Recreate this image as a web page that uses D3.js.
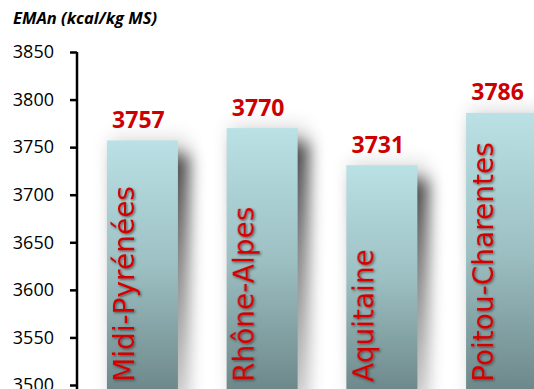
<!DOCTYPE html>
<html><head><meta charset="utf-8">
<script src="https://cdn.jsdelivr.net/npm/d3@7"></script>
<style>body{margin:0;background:#fff;overflow:hidden}svg{display:block}</style>
</head><body>
<script>
const categories = ["Midi-Pyrénées", "Rhône-Alpes", "Aquitaine", "Poitou-Charentes"];
const values = [3757, 3770, 3731, 3786];
const yTicks = [3500, 3550, 3600, 3650, 3700, 3750, 3800, 3850];
const yTitle = "EMAn (kcal/kg MS)";

const W = 534, H = 389;
const svg = d3.select("body").append("svg").attr("width", W).attr("height", H);
const defs = svg.append("defs");
const grad = defs.append("linearGradient").attr("id", "barGrad").attr("x1", 0).attr("y1", 0).attr("x2", 0).attr("y2", 1);
grad.append("stop").attr("offset", "0%").attr("stop-color", "#bae1e5");
grad.append("stop").attr("offset", "50%").attr("stop-color", "#9cbfc2");
grad.append("stop").attr("offset", "100%").attr("stop-color", "#6c8688");
const sgrad = defs.append("linearGradient").attr("id", "shGrad").attr("x1", 0).attr("y1", 0).attr("x2", 0).attr("y2", 1);
sgrad.append("stop").attr("offset", "0%").attr("stop-color", "#000").attr("stop-opacity", 0.7);
sgrad.append("stop").attr("offset", "45%").attr("stop-color", "#000").attr("stop-opacity", 0.4);
sgrad.append("stop").attr("offset", "100%").attr("stop-color", "#000").attr("stop-opacity", 0.1);
const blur = defs.append("filter").attr("id", "blur").attr("x", "-50%").attr("y", "-30%").attr("width", "200%").attr("height", "160%");
blur.append("feGaussianBlur").attr("stdDeviation", 8);
const glow = defs.append("filter").attr("id", "glow").attr("x", "-50%").attr("y", "-50%").attr("width", "200%").attr("height", "200%");
glow.append("feGaussianBlur").attr("stdDeviation", 9);
const tsh = defs.append("filter").attr("id", "txtShadow").attr("x", "-20%").attr("y", "-20%").attr("width", "140%").attr("height", "140%");
tsh.append("feDropShadow").attr("dx", 1.2).attr("dy", 1.2).attr("stdDeviation", 0.8).attr("flood-color", "#333").attr("flood-opacity", 0.7);

const y = d3.scaleLinear().domain([3500, 3850]).range([385, 52]);
const x = d3.scaleBand().domain(categories).range([77, 567]).paddingInner(0.407).paddingOuter(0.25);

const g = svg.append("g");
g.selectAll("rect.glow").data(values).join("rect")
  .attr("class", "glow")
  .attr("x", (d, i) => x(categories[i]) + 2)
  .attr("y", d => y(d) - 4)
  .attr("width", x.bandwidth() + 8)
  .attr("height", d => y(3500) - y(d) + 20)
  .attr("fill", "#000").attr("opacity", 0.12)
  .attr("filter", "url(#glow)");
g.selectAll("rect.shadow").data(values).join("rect")
  .attr("class", "shadow")
  .attr("x", (d, i) => x(categories[i]) + 11)
  .attr("y", d => y(d) + 14)
  .attr("width", x.bandwidth())
  .attr("height", d => y(3500) - y(d))
  .attr("fill", "url(#shGrad)")
  .attr("filter", "url(#blur)");
g.selectAll("rect.bar").data(values).join("rect")
  .attr("class", "bar")
  .attr("x", (d, i) => x(categories[i]))
  .attr("y", d => y(d))
  .attr("width", x.bandwidth())
  .attr("height", d => y(3500) - y(d) + 10)
  .attr("fill", "url(#barGrad)");

g.selectAll("text.val").data(values).join("text")
  .attr("class", "val")
  .attr("x", (d, i) => x(categories[i]) + x.bandwidth() / 2 - 4)
  .attr("y", d => y(d) - 12.5)
  .attr("text-anchor", "middle")
  .attr("font-family", "'Open Sans', sans-serif")
  .attr("font-weight", "bold")
  .attr("font-size", 23)
  .attr("fill", "#cc0000")
  .text(d => d);

const lg = svg.append("g").attr("filter", "url(#txtShadow)");
lg.selectAll("text.cat").data(categories).join("text")
  .attr("class", "cat")
  .attr("transform", d => `translate(${x(d) + 27},382) rotate(-90)`)
  .attr("font-family", "'DejaVu Sans', sans-serif")
  .attr("font-size", 28)
  .attr("fill", "#d40000")
  .text(d => d);

const axis = d3.axisLeft(y).tickValues(yTicks).tickSize(7).tickPadding(16).tickFormat(d3.format("d"));
const ag = svg.append("g").attr("transform", "translate(77,0)").call(axis);
ag.select(".domain").attr("stroke", "#000").attr("stroke-width", 2.5).attr("d", "M0,52V392");
ag.selectAll(".tick line").attr("stroke", "#000").attr("stroke-width", 2.5);
ag.selectAll(".tick text").attr("font-family", "'Open Sans', sans-serif").attr("font-size", 18).attr("fill", "#000");

svg.append("text")
  .attr("x", 13).attr("y", 24)
  .attr("font-family", "'Open Sans', sans-serif")
  .attr("font-weight", "bold").attr("font-style", "italic")
  .attr("font-size", 16.5)
  .attr("fill", "#000")
  .text(yTitle);
</script>
</body></html>
